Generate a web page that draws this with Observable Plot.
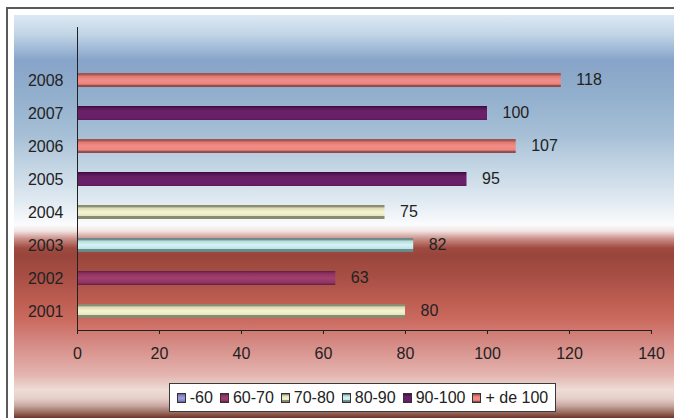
<!DOCTYPE html>
<html>
<head>
<meta charset="utf-8">
<script src="https://cdn.jsdelivr.net/npm/d3@7"></script>
<script src="https://cdn.jsdelivr.net/npm/@observablehq/plot@0.6"></script>
<style>
  html, body { margin: 0; padding: 0; background: #fff; }
  #wrap { position: relative; width: 674px; height: 418px; overflow: hidden; font-family: "Liberation Sans", Arial, Helvetica, sans-serif; }
  #frame { position: absolute; left: 6px; top: 7px; width: 720px; height: 520px; border: 2px solid #5a5a5a; box-sizing: border-box; }
  #panel { position: absolute; left: 14px; top: 15px; width: 660px; height: 403px;
    background: linear-gradient(to bottom,
      #dde9f3 0px, #c0d4e6 20px, #87a4c9 45px, #92afcd 80px, #a6bfd6 120px, #c2d4e3 150px,
      #dfe9f1 185px, #fbfcfd 210px, #f2e4e2 216px, #c98d86 224px, #9f4b41 233px, #99453b 240px,
      #a84f45 262px, #bd5d52 285px, #cb6a5f 305px, #d38680 325px, #dda09b 345px, #e4b5b0 360px,
      #eedcd6 375px, #e4cdc7 384px, #c6a69e 391px, #9c6e62 397px, #703426 403px);
  }
  #chart { position: absolute; left: 0; top: 0; }
  #legend { position: absolute; left: 169px; top: 383px; width: 387px; height: 29px; box-sizing: border-box;
    background: #fff; border: 1px solid #3a3a3a; display: flex; align-items: center; justify-content: center;
    font-size: 16px; color: #222; white-space: nowrap; }
  .item { display: flex; align-items: center; margin: 0 3.5px; }
  .sw { width: 7px; height: 8px; border: 1px solid #333; margin-right: 4px; }
</style>
</head>
<body>
<div id="wrap">
  <div id="frame"></div>
  <div id="panel"></div>
  <div id="chart"></div>
  <div id="legend"></div>
</div>
<script>
// ---- data ----
const years = ["2001", "2002", "2003", "2004", "2005", "2006", "2007", "2008"];
const values = [80, 63, 82, 75, 95, 107, 100, 118];
const yearClass = ["70-80", "60-70", "80-90", "70-80", "90-100", "+ de 100", "90-100", "+ de 100"];
const classes = ["-60", "60-70", "70-80", "80-90", "90-100", "+ de 100"];
const xTicks = [0, 20, 40, 60, 80, 100, 120, 140];

// ---- styles (gradient stops per class: [offset, colour]) ----
const classStops = [
  [[0, "#5a5a98"], [0.15, "#7d7dc0"], [0.5, "#a0a0dc"], [0.85, "#8484c4"], [1, "#5a5a98"]],
  [[0, "#5e1a42"], [0.15, "#8a305e"], [0.5, "#a2406e"], [0.85, "#8e3462"], [1, "#5e1a42"]],
  [[0, "#8a8a72"], [0.14, "#8f8f74"], [0.2, "#d8d8b2"], [0.5, "#f5f5d2"], [0.75, "#e6e6be"], [0.8, "#8c8c72"], [1, "#858a6e"]],
  [[0, "#6a8a8c"], [0.14, "#6e8e90"], [0.2, "#b2dadc"], [0.5, "#d6f4f6"], [0.75, "#bfe4e6"], [0.82, "#6c8c8e"], [1, "#668688"]],
  [[0, "#3a0a38"], [0.15, "#561654"], [0.35, "#6a2068"], [0.85, "#6a2068"], [1, "#5a1858"]],
  [[0, "#9c5050"], [0.14, "#a85a58"], [0.22, "#e07872"], [0.5, "#f28c86"], [0.8, "#ee8680"], [0.86, "#9c5252"], [1, "#8c4646"]]
];

const data = years.map((y, i) => ({year: y, value: values[i], cls: yearClass[i]}));

const plot = Plot.plot({
  width: 674,
  height: 418,
  marginLeft: 77,
  marginRight: 23,
  marginTop: 27,
  marginBottom: 88,
  style: {background: "transparent", fontFamily: "'Liberation Sans', Arial, Helvetica, sans-serif", fontSize: "16px", color: "#222", overflow: "visible"},
  x: {domain: [0, 140], ticks: xTicks, tickSize: 4, tickPadding: 13, label: null},
  y: {type: "band", domain: years.slice().reverse(), range: [60.5, 330.3], paddingInner: 0.57, paddingOuter: 0.285, align: 0.5, tickSize: 0, tickPadding: 14, label: null},
  color: {domain: classes, range: classes.map((c, i) => `url(#grad${i})`)},
  marks: [
    Plot.barX(data, {x: "value", y: "year", fill: "cls"}),
    Plot.text(data, {x: "value", y: "year", text: d => String(d.value), dx: 15, dy: -1, textAnchor: "start", fill: "#222", fontSize: 16}),
    Plot.ruleX([0], {stroke: "#222", strokeWidth: 1}),
    Plot.frame({anchor: "bottom", stroke: "#222"})
  ]
});

// gradient definitions
const svg = d3.select(plot);
const defs = svg.insert("defs", ":first-child");
classStops.forEach((stops, i) => {
  const g = defs.append("linearGradient").attr("id", `grad${i}`).attr("x1", 0).attr("y1", 0).attr("x2", 0).attr("y2", 1);
  stops.forEach(([o, c]) => g.append("stop").attr("offset", o).attr("stop-color", c));
});

document.getElementById("chart").appendChild(plot);

// legend
const legend = d3.select("#legend");
classes.forEach((c, i) => {
  const stops = classStops[i].map(([o, col]) => `${col} ${o * 100}%`).join(", ");
  const it = legend.append("div").attr("class", "item");
  it.append("div").attr("class", "sw").style("background", `linear-gradient(to bottom, ${stops})`);
  it.append("span").text(c);
});
</script>
</body>
</html>
